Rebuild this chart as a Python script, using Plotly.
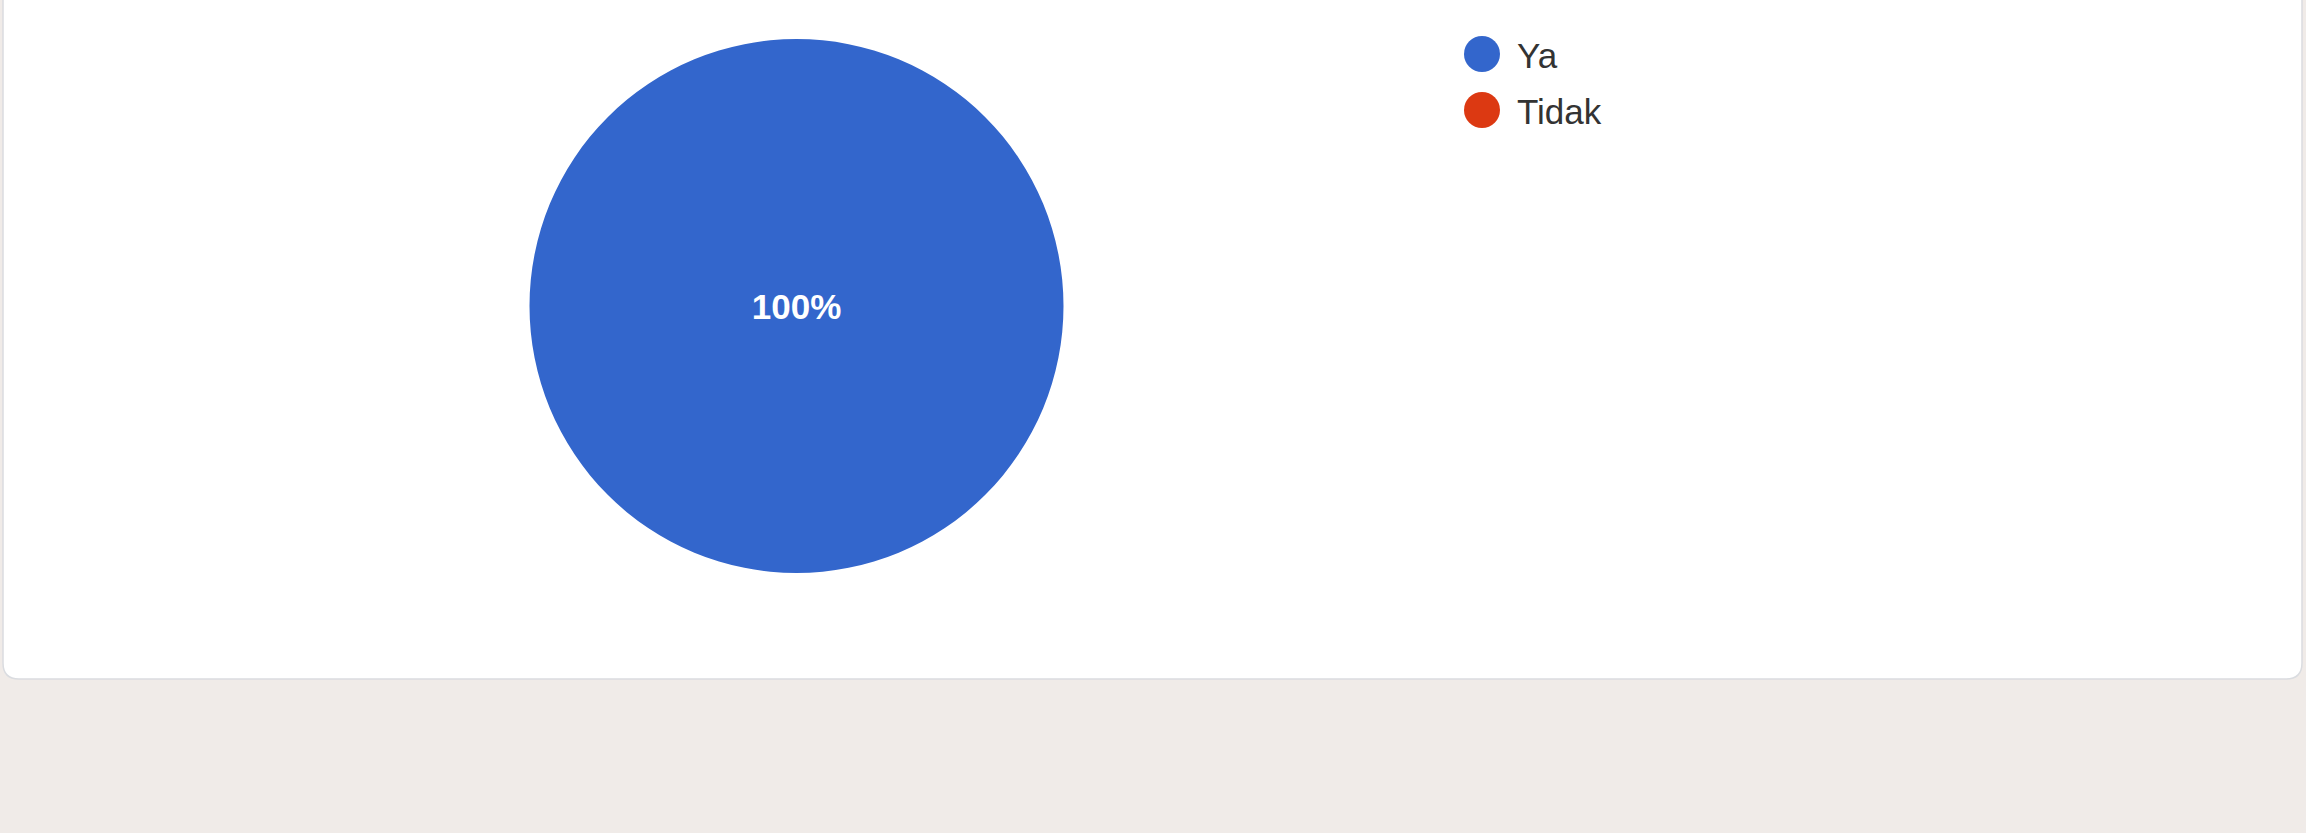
import plotly.graph_objects as go

W, H = 2306, 833

labels = ['Ya', 'Tidak']
values = [100, 0]
colors = ['#3366cc', '#dc3912']

page_color = '#f0ebe8'
card_color = '#ffffff'
border_color = '#dadce0'
font_family = 'Arial, Liberation Sans, sans-serif'


def px(x):
    return x / W


def py(y):
    return 1 - y / H


def rounded_rect(x0, y0, x1, y1, r):
    # svg path in paper coords, y given in pixels from the top
    pts = [
        f"M {px(x0 + r)} {py(y0)}",
        f"L {px(x1 - r)} {py(y0)}",
        f"Q {px(x1)} {py(y0)} {px(x1)} {py(y0 + r)}",
        f"L {px(x1)} {py(y1 - r)}",
        f"Q {px(x1)} {py(y1)} {px(x1 - r)} {py(y1)}",
        f"L {px(x0 + r)} {py(y1)}",
        f"Q {px(x0)} {py(y1)} {px(x0)} {py(y1 - r)}",
        f"L {px(x0)} {py(y0 + r)}",
        f"Q {px(x0)} {py(y0)} {px(x0 + r)} {py(y0)}",
        "Z",
    ]
    return " ".join(pts)


# pie centre / radius in pixels
cx, cy, rad = 796.5, 306, 267

pie = go.Pie(
    labels=labels,
    values=values,
    marker=dict(colors=colors, line=dict(width=0)),
    sort=False,
    direction='clockwise',
    texttemplate=['<b>%{percent:.0%}</b>' if v > 0 else '' for v in values],
    textposition='inside',
    insidetextfont=dict(color='white', size=35, family=font_family),
    showlegend=False,
    hoverinfo='label+percent',
    domain=dict(x=[px(cx - rad), px(cx + rad)],
                y=[py(cy + rad), py(cy - rad)]),
)

shapes = [dict(
    type='path',
    xref='paper', yref='paper',
    path=rounded_rect(3, -30, 2302, 679, 16),
    fillcolor=card_color,
    line=dict(color=border_color, width=1.5),
    layer='below',
)]

annotations = []
# hand-drawn legend: circle markers + labels
leg_x, leg_y, leg_step, dot_r = 1482, 54, 56, 18
for i, (lab, col) in enumerate(zip(labels, colors)):
    yy = leg_y + i * leg_step
    shapes.append(dict(
        type='circle', xref='paper', yref='paper',
        x0=px(leg_x - dot_r), x1=px(leg_x + dot_r),
        y0=py(yy + dot_r), y1=py(yy - dot_r),
        fillcolor=col, line=dict(width=0),
    ))
    annotations.append(dict(
        x=px(leg_x + 33), y=py(yy + 2), xref='paper', yref='paper',
        text=lab, showarrow=False, xanchor='left', yanchor='middle',
        font=dict(size=35, color='#333333', family=font_family),
    ))

layout = go.Layout(
    width=W, height=H,
    autosize=False,
    margin=dict(l=0, r=0, t=0, b=0),
    paper_bgcolor=page_color,
    plot_bgcolor=page_color,
    shapes=shapes,
    annotations=annotations,
    font=dict(family=font_family),
)

fig = go.Figure(data=[pie], layout=layout)
fig.write_html("out.html", config={'displayModeBar': False},
               post_script="document.body.style.margin='0';")
